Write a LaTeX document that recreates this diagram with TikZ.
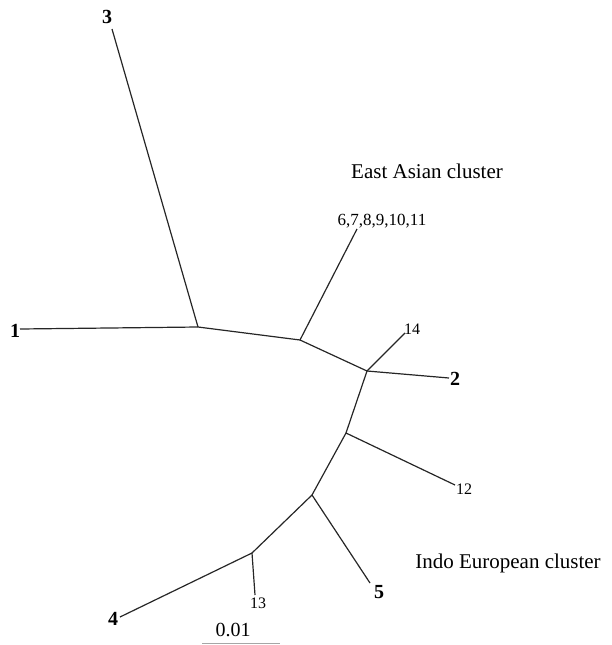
\documentclass[tikz,border=0pt]{standalone}
\usepackage{fontspec}
\setmainfont{Liberation Serif}
\begin{document}
\begin{tikzpicture}[x=1pt, y=-1pt,
    branch/.style={line width=1.2pt, draw=black!85},
    taxon/.style={font=\fontsize{20}{20}\selectfont\bfseries, inner sep=0pt},
    subtaxon/.style={font=\fontsize{16}{16}\selectfont, inner sep=0pt},
    cluster/.style={font=\fontsize{21}{21}\selectfont, inner sep=0pt}]
    \useasboundingbox (0,0) rectangle (611,645);

    % inner nodes of the tree
    \coordinate (A) at (198,327);
    \coordinate (B) at (300,340);
    \coordinate (C) at (367,371);
    \coordinate (D) at (346,433);
    \coordinate (E) at (312,495);
    \coordinate (F) at (252,553);

    % tips
    \coordinate (t1) at (20,329);
    \coordinate (t3) at (112,29);
    \coordinate (t6) at (357,229);
    \coordinate (t14) at (405,333);
    \coordinate (t2) at (449,378);
    \coordinate (t12) at (455,485);
    \coordinate (t5) at (370,583);
    \coordinate (t13) at (255,595);
    \coordinate (t4) at (120,617);

    \foreach \a/\b in {A/t1, A/t3, A/B, B/t6, B/C, C/t14, C/t2, C/D,
                       D/t12, D/E, E/t5, E/F, F/t13, F/t4} {
      \draw[branch] (\a) -- (\b);
    }

    % tip labels
    \node[taxon] (n1) at (15,331) {1};
    \node[taxon] (n2) at (455,379) {2};
    \node[taxon] (n3) at (107,17) {3};
    \node[taxon] (n4) at (113,619) {4};
    \node[taxon] (n5) at (379,592) {5};
    \node[subtaxon, font=\fontsize{17}{17}\selectfont] (n6) at (382,221) {6,7,8,9,10,11};
    \node[subtaxon] (n12) at (464,489) {12};
    \node[subtaxon] (n13) at (258,603) {13};
    \node[subtaxon] (n14) at (412,329) {14};

    \node[cluster] (eastasian) at (427,171) {East Asian cluster};
    \node[cluster] (indoeuropean) at (508,563) {Indo European cluster};

    % scale bar
    \coordinate (s1) at (202,643);
    \coordinate (s2) at (280,643);
    \draw[line width=1pt, black!35] (s1) -- (s2);
    \node[cluster, font=\fontsize{20}{20}\selectfont] (scale) at (233,630) {0.01};
\end{tikzpicture}
\end{document}
